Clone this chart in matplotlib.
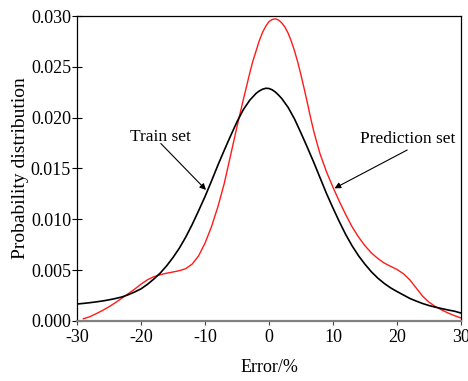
import matplotlib
matplotlib.use("Agg")
import matplotlib.pyplot as plt
from matplotlib.ticker import FormatStrFormatter

# Train-set curve: Error (%) and probability density
train_x = [-30, -29, -28, -27, -26, -25, -24, -23, -22, -21, -20, -19, -18, -17, -16, -15, -14, -13,
           -12, -11, -10, -9, -8, -7, -6, -5, -4, -3, -2, -1.5, -1, -0.5, 0, 0.5, 1, 1.5, 2, 3, 4, 5,
           6, 7, 8, 9, 10, 11, 12, 13, 14, 15, 16, 17, 18, 19, 20, 21, 22, 23, 24, 25, 26, 27, 28,
           29, 30]
train_y = [0.00167, 0.00173, 0.00180, 0.00188, 0.00197, 0.00208, 0.00221, 0.00236, 0.00258, 0.00285,
           0.00316, 0.00360, 0.00412, 0.00471, 0.00542, 0.00624, 0.00717, 0.00826, 0.00949, 0.01084,
           0.01223, 0.01374, 0.01530, 0.01678, 0.01821, 0.01959, 0.02080, 0.02172, 0.02240, 0.02263,
           0.02280, 0.02289, 0.02287, 0.02274, 0.02252, 0.02222, 0.02188, 0.02100, 0.01986, 0.01849,
           0.01707, 0.01560, 0.01406, 0.01252, 0.01111, 0.00976, 0.00849, 0.00738, 0.00641, 0.00558,
           0.00484, 0.00422, 0.00370, 0.00326, 0.00290, 0.00256, 0.00222, 0.00196, 0.00172, 0.00152,
           0.00136, 0.00122, 0.00108, 0.00096, 0.00078]

# Prediction-set curve
pred_x = [-29, -28, -27, -26, -25, -24, -23, -22, -21, -20, -19, -18, -17, -16, -15, -14, -13, -12,
          -11, -10, -9, -8, -7, -6, -5, -4, -3.5, -3, -2.5, -2, -1.5, -1, -0.5, 0, 0.5, 1, 1.5, 2,
          2.5, 3, 3.5, 4, 4.5, 5, 5.5, 6, 6.5, 7, 7.5, 8, 9, 10, 11, 12, 13, 14, 15, 16, 17, 18, 19,
          20, 21, 22, 23, 24, 25, 26, 27, 28, 29, 30]
pred_y = [0.00022, 0.00042, 0.00072, 0.00104, 0.00140, 0.00180, 0.00224, 0.00268, 0.00313, 0.00362,
          0.00405, 0.00435, 0.00455, 0.00470, 0.00482, 0.00495, 0.00515, 0.00560, 0.00640, 0.00765,
          0.00925, 0.01120, 0.01350, 0.01630, 0.01910, 0.02180, 0.02310, 0.02440, 0.02560, 0.02660,
          0.02760, 0.02840, 0.02900, 0.02945, 0.02966, 0.02972, 0.02960, 0.02932, 0.02890, 0.02830,
          0.02750, 0.02655, 0.02545, 0.02420, 0.02285, 0.02145, 0.02000, 0.01865, 0.01750, 0.01640,
          0.01465, 0.01315, 0.01175, 0.01045, 0.00925, 0.00825, 0.00740, 0.00670, 0.00615, 0.00570,
          0.00538, 0.00507, 0.00465, 0.00405, 0.00325, 0.00245, 0.00185, 0.00142, 0.00108, 0.00078,
          0.00052, 0.00030]

x_ticks = [-30, -20, -10, 0, 10, 20, 30]
y_ticks = [0.000, 0.005, 0.010, 0.015, 0.020, 0.025, 0.030]

plt.rcParams['font.family'] = ['Liberation Serif', 'DejaVu Serif']

fig = plt.figure(figsize=(4.68, 3.81), dpi=100)
ax = fig.add_axes([0.1645, 0.1575, 0.8205, 0.8005])

ax.plot(train_x, train_y, color='black', lw=1.2, zorder=3)
ax.plot(pred_x, pred_y, color='#ff1a1a', lw=1.0, zorder=2)

ax.set_xlim(-30, 30)
ax.set_ylim(0, 0.030)
ax.set_xticks(x_ticks)
ax.set_yticks(y_ticks)
ax.yaxis.set_major_formatter(FormatStrFormatter('%.3f'))
ax.xaxis.set_major_formatter(FormatStrFormatter('%d'))

for s in ['top', 'right', 'left']:
    ax.spines[s].set_color('black')
    ax.spines[s].set_linewidth(0.9)
ax.spines['bottom'].set_color('#808080')
ax.spines['bottom'].set_linewidth(1.6)

ax.tick_params(axis='y', direction='inout', length=6.5, width=0.8, labelsize=13, pad=1)
ax.tick_params(axis='x', direction='out', length=3, width=0.8, color='#404040', labelsize=13, pad=3)

ax.set_xlabel('Error/%', fontsize=13, labelpad=9)
ax.set_ylabel('Probability distribution', fontsize=14, labelpad=1)

ax.text(-17.0, 0.0181, 'Train set', fontsize=12.5, ha='center', va='center')
ax.annotate('', xy=(-9.84, 0.01289), xytext=(-16.9, 0.01746),
            arrowprops=dict(arrowstyle='-|>', color='black', lw=0.8, mutation_scale=9,
                            shrinkA=0, shrinkB=0))
ax.text(21.7, 0.0179, 'Prediction set', fontsize=12.5, ha='center', va='center')
ax.annotate('', xy=(10.23, 0.01305), xytext=(21.6, 0.01682),
            arrowprops=dict(arrowstyle='-|>', color='black', lw=0.8, mutation_scale=9,
                            shrinkA=0, shrinkB=0))

fig.savefig('out.png', dpi=100)
